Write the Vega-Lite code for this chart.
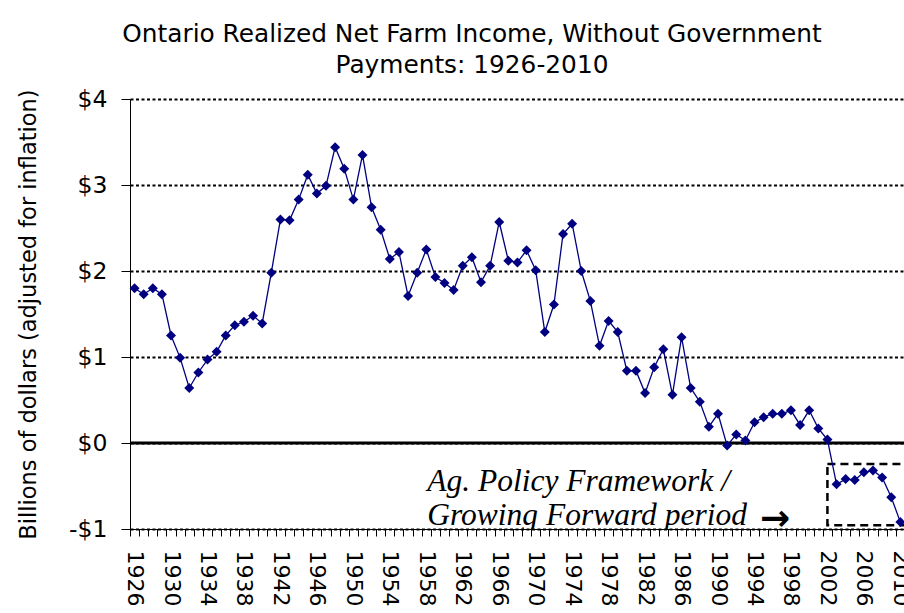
{
  "$schema": "https://vega.github.io/schema/vega-lite/v6.json",
  "autosize": {"type": "none"},
  "padding": {"left": 130, "top": 99, "right": 0, "bottom": 84},
  "width": 774,
  "height": 430,
  "background": "white",
  "config": {"view": {"stroke": null}},
  "title": {
    "text": ["Ontario Realized Net Farm Income, Without Government", "Payments: 1926-2010"],
    "font": "DejaVu Sans",
    "fontSize": 24.8,
    "fontWeight": "normal",
    "color": "black",
    "lineHeight": 31.5,
    "anchor": "middle",
    "dx": -45,
    "offset": 9
  },
  "datasets": {
    "income": [
      {"year": 1926, "value": 1.80}, {"year": 1927, "value": 1.73}, {"year": 1928, "value": 1.80}, {"year": 1929, "value": 1.73},
      {"year": 1930, "value": 1.25}, {"year": 1931, "value": 0.99}, {"year": 1932, "value": 0.64}, {"year": 1933, "value": 0.82},
      {"year": 1934, "value": 0.97}, {"year": 1935, "value": 1.06}, {"year": 1936, "value": 1.25}, {"year": 1937, "value": 1.37},
      {"year": 1938, "value": 1.41}, {"year": 1939, "value": 1.48}, {"year": 1940, "value": 1.39}, {"year": 1941, "value": 1.98},
      {"year": 1942, "value": 2.60}, {"year": 1943, "value": 2.59}, {"year": 1944, "value": 2.83}, {"year": 1945, "value": 3.12},
      {"year": 1946, "value": 2.90}, {"year": 1947, "value": 2.99}, {"year": 1948, "value": 3.44}, {"year": 1949, "value": 3.19},
      {"year": 1950, "value": 2.83}, {"year": 1951, "value": 3.35}, {"year": 1952, "value": 2.74}, {"year": 1953, "value": 2.48},
      {"year": 1954, "value": 2.14}, {"year": 1955, "value": 2.22}, {"year": 1956, "value": 1.71}, {"year": 1957, "value": 1.98},
      {"year": 1958, "value": 2.25}, {"year": 1959, "value": 1.93}, {"year": 1960, "value": 1.86}, {"year": 1961, "value": 1.78},
      {"year": 1962, "value": 2.06}, {"year": 1963, "value": 2.16}, {"year": 1964, "value": 1.87}, {"year": 1965, "value": 2.06},
      {"year": 1966, "value": 2.57}, {"year": 1967, "value": 2.12}, {"year": 1968, "value": 2.10}, {"year": 1969, "value": 2.24},
      {"year": 1970, "value": 2.01}, {"year": 1971, "value": 1.29}, {"year": 1972, "value": 1.61}, {"year": 1973, "value": 2.43},
      {"year": 1974, "value": 2.55}, {"year": 1975, "value": 2.00}, {"year": 1976, "value": 1.65}, {"year": 1977, "value": 1.13},
      {"year": 1978, "value": 1.42}, {"year": 1979, "value": 1.29}, {"year": 1980, "value": 0.84}, {"year": 1981, "value": 0.84},
      {"year": 1982, "value": 0.58}, {"year": 1983, "value": 0.88}, {"year": 1984, "value": 1.09}, {"year": 1985, "value": 0.56},
      {"year": 1986, "value": 1.23}, {"year": 1987, "value": 0.64}, {"year": 1988, "value": 0.48}, {"year": 1989, "value": 0.19},
      {"year": 1990, "value": 0.34}, {"year": 1991, "value": -0.03}, {"year": 1992, "value": 0.10}, {"year": 1993, "value": 0.03},
      {"year": 1994, "value": 0.24}, {"year": 1995, "value": 0.30}, {"year": 1996, "value": 0.34}, {"year": 1997, "value": 0.34},
      {"year": 1998, "value": 0.38}, {"year": 1999, "value": 0.21}, {"year": 2000, "value": 0.38}, {"year": 2001, "value": 0.17},
      {"year": 2002, "value": 0.04}, {"year": 2003, "value": -0.48}, {"year": 2004, "value": -0.42}, {"year": 2005, "value": -0.43},
      {"year": 2006, "value": -0.34}, {"year": 2007, "value": -0.32}, {"year": 2008, "value": -0.40}, {"year": 2009, "value": -0.63},
      {"year": 2010, "value": -0.92}
    ],
    "notes": [
      {"year": 1958.1, "value": -0.558, "label": "Ag. Policy Framework /"},
      {"year": 1958.1, "value": -0.953, "label": "Growing Forward period"}
    ],
    "arrow": [
      {"year": 1994.6, "value": -1.012, "label": "→"}
    ],
    "box": [
      {"year": 2002, "year2": 2013, "value": -0.245, "value2": -0.957}
    ],
    "zero": [
      {"value": 0}
    ]
  },
  "encoding": {
    "x": {
      "field": "year",
      "type": "quantitative",
      "scale": {"domain": [1925.5, 2010.4], "nice": false, "zero": false},
      "axis": {
        "title": null,
        "values": [1925.5, 1926.5, 1927.5, 1928.5, 1929.5, 1930.5, 1931.5, 1932.5, 1933.5, 1934.5, 1935.5, 1936.5, 1937.5, 1938.5, 1939.5, 1940.5, 1941.5, 1942.5, 1943.5, 1944.5, 1945.5, 1946.5, 1947.5, 1948.5, 1949.5, 1950.5, 1951.5, 1952.5, 1953.5, 1954.5, 1955.5, 1956.5, 1957.5, 1958.5, 1959.5, 1960.5, 1961.5, 1962.5, 1963.5, 1964.5, 1965.5, 1966.5, 1967.5, 1968.5, 1969.5, 1970.5, 1971.5, 1972.5, 1973.5, 1974.5, 1975.5, 1976.5, 1977.5, 1978.5, 1979.5, 1980.5, 1981.5, 1982.5, 1983.5, 1984.5, 1985.5, 1986.5, 1987.5, 1988.5, 1989.5, 1990.5, 1991.5, 1992.5, 1993.5, 1994.5, 1995.5, 1996.5, 1997.5, 1998.5, 1999.5, 2000.5, 2001.5, 2002.5, 2003.5, 2004.5, 2005.5, 2006.5, 2007.5, 2008.5, 2009.5],
        "labelExpr": "(datum.value - 1925.5) % 4 == 0 ? format(datum.value + 0.5, 'd') : ''",
        "labelOffset": 4.56,
        "labelAngle": 90,
        "labelFlush": false,
        "labelOverlap": false,
        "labelBound": false,
        "grid": false,
        "tickSize": 7,
        "tickColor": "black",
        "domainColor": "black",
        "labelFont": "DejaVu Sans",
        "labelFontSize": 22,
        "labelColor": "black",
        "labelPadding": 14
      }
    },
    "y": {
      "field": "value",
      "type": "quantitative",
      "scale": {"domain": [-1, 4], "nice": false, "zero": false},
      "axis": {
        "title": "Billions of dollars (adjusted for inflation)",
        "titleFont": "DejaVu Sans",
        "titleFontSize": 22.5,
        "titleFontWeight": "normal",
        "titleColor": "black",
        "titlePadding": 28,
        "values": [-1, 0, 1, 2, 3, 4],
        "labelExpr": "datum.value < 0 ? '-$' + abs(datum.value) : '$' + datum.value",
        "labelFont": "DejaVu Sans",
        "labelFontSize": 23.5,
        "labelColor": "black",
        "labelPadding": 14,
        "tickSize": 9,
        "tickColor": "black",
        "domainColor": "black",
        "grid": true,
        "gridColor": "black",
        "gridDash": [3, 2.5],
        "gridWidth": 1.8
      }
    }
  },
  "layer": [
    {
      "data": {"name": "zero"},
      "mark": {"type": "rule", "color": "black", "strokeWidth": 3},
      "encoding": {"y": {"field": "value", "type": "quantitative"}, "x": {"value": 0}, "x2": {"value": 774}}
    },
    {
      "data": {"name": "notes"},
      "mark": {"type": "text", "font": "Liberation Serif", "fontStyle": "italic", "fontSize": 31.5, "align": "left", "baseline": "alphabetic", "color": "black", "clip": true},
      "encoding": {"text": {"field": "label"}}
    },
    {
      "data": {"name": "arrow"},
      "mark": {"type": "text", "font": "DejaVu Sans", "fontWeight": "bold", "fontSize": 36, "align": "left", "baseline": "alphabetic", "color": "black"},
      "encoding": {"text": {"field": "label"}}
    },
    {
      "data": {"name": "box"},
      "mark": {"type": "rect", "fill": null, "stroke": "black", "strokeWidth": 2.5, "strokeDash": [8, 5], "clip": true},
      "encoding": {"x2": {"field": "year2"}, "y2": {"field": "value2"}}
    },
    {
      "data": {"name": "income"},
      "mark": {"type": "line", "color": "#000080", "strokeWidth": 1.3}
    },
    {
      "data": {"name": "income"},
      "mark": {"type": "point", "shape": "diamond", "filled": true, "size": 100, "color": "#000080", "opacity": 1}
    }
  ]
}
